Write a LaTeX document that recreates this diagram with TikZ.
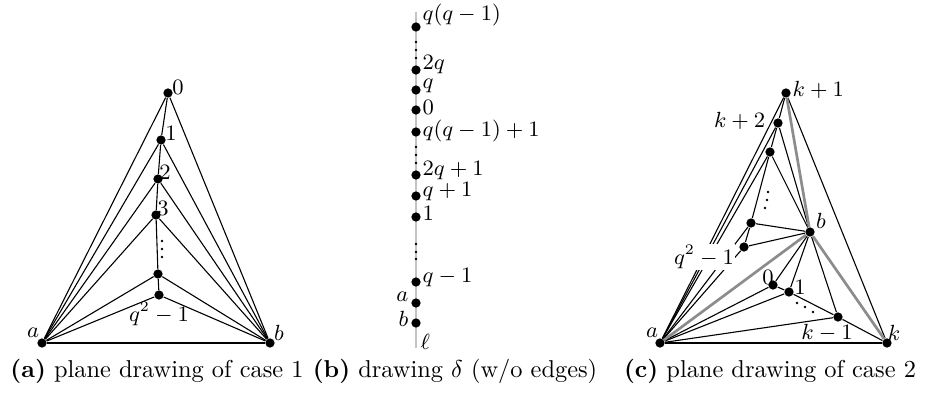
\documentclass[tikz,border=0pt]{standalone}
\usetikzlibrary{positioning}

\begin{document}
\begin{tikzpicture}[
    x=0.41pt, y=-0.41pt,
    every node/.style={font=\small},
]

% ---------------------------------------------------------------- colours
\definecolor{edgegray}{HTML}{8C8C8C}   % the highlighted edges at b
\definecolor{linegray}{HTML}{C4C4C4}   % the line l

\tikzset{
    vtx/.style={circle, fill=black, inner sep=0pt, minimum size=3.8pt},
    tinydot/.style={circle, fill=black, inner sep=0pt, minimum size=1.2pt},
    edge/.style={line width=0.45pt},
    hiedge/.style={edgegray, line width=1.1pt},
    lab/.style={inner sep=0.5pt},
    wlab/.style={lab, fill=white},
    caption/.style={font=\normalsize, anchor=base},
}

\useasboundingbox (0,0) rectangle (925,393);

% ----------------------------------------------------------------------
% (a) plane drawing of case 1
% ----------------------------------------------------------------------
\node[vtx] (aA) at (42,343) {};
\node[vtx] (bA) at (270,343) {};
\foreach \n/\x/\y in {0/168/93, 1/161/140, 2/158/179, 3/156/215, 4/158/274, 5/159/295}
    \node[vtx] (p\n) at (\x,\y) {};

\draw[edge] (aA) -- (bA);
\foreach \n in {0,...,5} {
    \draw[edge] (aA) -- (p\n);
    \draw[edge] (bA) -- (p\n);
}
\draw[edge] (p0) -- (p1) -- (p2) -- (p3) -- (p4) -- (p5);

\foreach \y [count=\i] in {241,249,257}
    \node[tinydot] (dA\i) at (162,\y) {};

\node[lab] (l0) at (178,87) {$0$};
\node[lab] (l1) at (171,133) {$1$};
\node[lab] (l2) at (165,172) {$2$};
\node[lab] (l3) at (163,208) {$3$};
\node[lab] (lq) at (159,314) {$q^2-1$};
\node[lab] (la) at (33,333) {$a$};
\node[lab] (lb) at (279,333) {$b$};

\node[caption] (capA) at (157,377) {\textbf{(a)} plane drawing of case 1};

% ----------------------------------------------------------------------
% (b) drawing delta, vertices on the line l
% ----------------------------------------------------------------------
\coordinate (ltop) at (416,12);
\coordinate (lbot) at (416,348);
\draw[linegray, line width=1pt] (ltop) -- (lbot);

\foreach \n/\y in {t/27, tq/70, q/90, z/110, tqo/132, tqp/175, qp/196, o/217, qm/282, a/303, b/323}
    \node[vtx] (s\n) at (416,\y) {};
\foreach \y [count=\i] in {42,50,58,147,155,163,244,252,259}
    \node[tinydot] (dB\i) at (416,\y) {};

\node[lab, anchor=west] (mt)   at (421,15)  {$q(q-1)$};
\node[lab, anchor=west] (mtq)  at (421,65)  {$2q$};
\node[lab, anchor=west] (mq)   at (421,86)  {$q$};
\node[lab, anchor=west] (mz)   at (421,107) {$0$};
\node[lab, anchor=west] (mtqo) at (421,131) {$q(q-1)+1$};
\node[lab, anchor=west] (mtqp) at (421,171) {$2q+1$};
\node[lab, anchor=west] (mqp)  at (421,192) {$q+1$};
\node[lab, anchor=west] (mo)   at (421,213) {$1$};
\node[lab, anchor=west] (mqm)  at (421,278) {$q-1$};
\node[lab, anchor=east] (ma)   at (410,297) {$a$};
\node[lab, anchor=east] (mb)   at (410,319) {$b$};
\node[lab, anchor=west] (ml)   at (419,342) {$\ell$};

\node[caption] (capB) at (455,377) {\textbf{(b)} drawing $\delta$ (w/o edges)};

% ----------------------------------------------------------------------
% (c) plane drawing of case 2
% ----------------------------------------------------------------------
\node[vtx] (aC)   at (660,343) {};
\node[vtx] (kC)   at (887,343) {};
\node[vtx] (kp1)  at (786,93)  {};
\node[vtx] (kp2)  at (778,123) {};
\node[vtx] (w3)   at (770,152) {};
\node[vtx] (w4)   at (751,223) {};
\node[vtx] (wq)   at (744,247) {};
\node[vtx] (bC)   at (810,232) {};
\node[vtx] (u0)   at (773,285) {};
\node[vtx] (u1)   at (789,292) {};
\node[vtx] (ukm1) at (838,317) {};

\foreach \v in {kp1,kp2,w3,w4,wq,u0,u1,ukm1,kC}
    \draw[edge] (aC) -- (\v);
\foreach \v in {kp2,w3,w4,wq,u0,u1,ukm1}
    \draw[edge] (bC) -- (\v);
\draw[edge] (kp1) -- (kp2) -- (w3) -- (w4) -- (wq);
\draw[edge] (kp1) -- (kC);
\draw[edge] (u0) -- (u1) -- (ukm1) -- (kC);
\foreach \v in {kp1,aC,kC}
    \draw[hiedge] (bC) -- (\v);

\foreach \x/\y [count=\i] in {768/192, 767/200, 765/208, 797/303, 805/307, 813/312}
    \node[tinydot] (dC\i) at (\x,\y) {};

\node[lab, anchor=west] (nkp1) at (791,90)  {$k+1$};
\node[lab, anchor=east] (nkp2) at (767,121) {$k+2$};
\node[lab] (nb)   at (821,221) {$b$};
\node[wlab] (nq)  at (704,257) {$q^2-1$};
\node[lab] (n0)   at (768,277) {$0$};
\node[lab] (n1)   at (800,287) {$1$};
\node[lab] (nkm1) at (827,333) {$k-1$};
\node[lab] (nk)   at (894,333) {$k$};
\node[lab] (na)   at (652,333) {$a$};

\node[caption] (capC) at (770,377) {\textbf{(c)} plane drawing of case 2};

\end{tikzpicture}
\end{document}
